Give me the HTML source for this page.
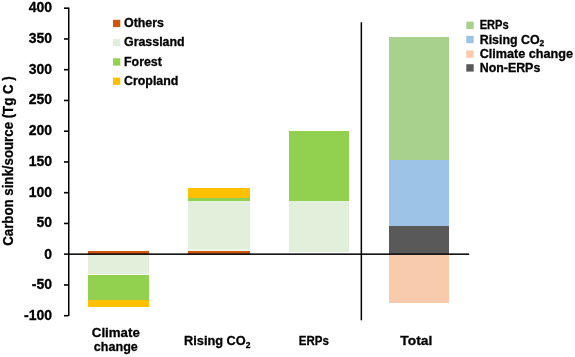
<!DOCTYPE html>
<html><head><meta charset="utf-8"><style>
html,body{margin:0;padding:0;background:#fff;}
body{width:575px;height:357px;overflow:hidden;position:relative;}
svg{position:absolute;left:0;top:0;will-change:transform;}
text{font-family:"Liberation Sans",sans-serif;font-weight:bold;fill:#000;stroke:#000;stroke-width:0.3px;}
</style></head><body>
<svg width="575" height="357" viewBox="0 0 575 357">
<!-- Climate change bar -->
<g shape-rendering="crispEdges">
<rect x="88" y="251" width="61" height="3" fill="#CF5710"/>
<rect x="88" y="255" width="61" height="19" fill="#E2EFDA"/>
<rect x="88" y="275" width="61" height="24.5" fill="#92D050"/>
<rect x="88" y="299.5" width="61" height="7.5" fill="#FFC000"/>
<!-- Rising CO2 bar -->
<rect x="188" y="251" width="61.5" height="3" fill="#CF5710"/>
<rect x="188" y="249" width="61.5" height="2" fill="#EEF8EA"/>
<rect x="188" y="200.5" width="61.5" height="48.5" fill="#E2EFDA"/>
<rect x="188" y="198.4" width="61.5" height="2.2" fill="#92D050"/>
<rect x="188" y="188" width="61.5" height="10.4" fill="#FFC000"/>
<!-- ERPs bar -->
<rect x="288.5" y="201.4" width="60.5" height="50.4" fill="#E2EFDA"/>
<rect x="288.5" y="131" width="60.5" height="70.4" fill="#92D050"/>
<!-- Total bar -->
<rect x="389" y="36.6" width="60" height="123.1" fill="#A9D18E"/>
<rect x="389" y="159.7" width="60" height="66.5" fill="#9DC3E6"/>
<rect x="389" y="226.2" width="60" height="27.8" fill="#595959"/>
<rect x="389" y="255" width="60" height="47.6" fill="#F8CBAD"/>
</g>
<!-- axes -->
<g fill="#000">
<rect x="68" y="7.5" width="1.5" height="308.5"/>
<rect x="64" y="253.4" width="405.2" height="1.5"/>
<rect x="360.6" y="22.3" width="1.5" height="298"/>
<rect x="64" y="7.40" width="4.5" height="1.6"/>
<rect x="64" y="38.15" width="4.5" height="1.6"/>
<rect x="64" y="68.90" width="4.5" height="1.6"/>
<rect x="64" y="99.65" width="4.5" height="1.6"/>
<rect x="64" y="130.40" width="4.5" height="1.6"/>
<rect x="64" y="161.15" width="4.5" height="1.6"/>
<rect x="64" y="191.90" width="4.5" height="1.6"/>
<rect x="64" y="222.65" width="4.5" height="1.6"/>
<rect x="64" y="284.15" width="4.5" height="1.6"/>
<rect x="64" y="314.90" width="4.5" height="1.6"/>
</g>
<!-- tick labels -->
<g font-size="14" text-anchor="end">
<text x="52" y="12">400</text>
<text x="52" y="42.75">350</text>
<text x="52" y="73.5">300</text>
<text x="52" y="104.25">250</text>
<text x="52" y="135">200</text>
<text x="52" y="165.75">150</text>
<text x="52" y="196.5">100</text>
<text x="52" y="227.25">50</text>
<text x="52" y="258.5">0</text>
<text x="52" y="288.75">-50</text>
<text x="52" y="319.5">-100</text>
</g>
<!-- y title -->
<text transform="translate(13,245.8) rotate(-90)" font-size="15" textLength="169.5" lengthAdjust="spacingAndGlyphs">Carbon sink/source (Tg C )</text>
<!-- category labels -->
<g font-size="13.5" text-anchor="middle">
<text x="115.8" y="336.6" textLength="48" lengthAdjust="spacingAndGlyphs">Climate</text>
<text x="115.8" y="350.5" textLength="44" lengthAdjust="spacingAndGlyphs">change</text>
<text x="298.8" y="345.2" text-anchor="start" textLength="30" lengthAdjust="spacingAndGlyphs">ERPs</text>
<text x="416.3" y="345.2" textLength="32" lengthAdjust="spacingAndGlyphs">Total</text>
<text x="184" y="345.2" text-anchor="start" textLength="66.5" lengthAdjust="spacingAndGlyphs">Rising CO<tspan font-size="9" dy="2.6">2</tspan></text>
</g>
<!-- left legend -->
<g>
<rect x="113" y="19.8" width="7.3" height="7.3" fill="#CF5710"/>
<rect x="113" y="38.9" width="7.3" height="7.3" fill="#E2EFDA"/>
<rect x="113" y="58.3" width="7.3" height="7.3" fill="#92D050"/>
<rect x="113" y="77.6" width="7.3" height="7.3" fill="#FFC000"/>
</g>
<g font-size="12.4">
<text x="124" y="27">Others</text>
<text x="124" y="46.1">Grassland</text>
<text x="124" y="65.5">Forest</text>
<text x="124" y="84.8">Cropland</text>
</g>
<!-- right legend -->
<g>
<rect x="466.3" y="21.6" width="7.4" height="7.4" fill="#A9D18E"/>
<rect x="466.3" y="35.8" width="7.4" height="7.4" fill="#9DC3E6"/>
<rect x="466.3" y="50.4" width="7.4" height="7.4" fill="#F8CBAD"/>
<rect x="466.3" y="64.2" width="7.4" height="7.4" fill="#595959"/>
</g>
<g font-size="12.4">
<text x="479.7" y="29.3" textLength="29" lengthAdjust="spacingAndGlyphs">ERPs</text>
<text x="479.7" y="43.5">Rising CO<tspan font-size="8.5" dy="2.2">2</tspan></text>
<text x="479.7" y="57.9" textLength="93.4" lengthAdjust="spacingAndGlyphs">Climate change</text>
<text x="479.7" y="71.9">Non-ERPs</text>
</g>
</svg>
</body></html>
